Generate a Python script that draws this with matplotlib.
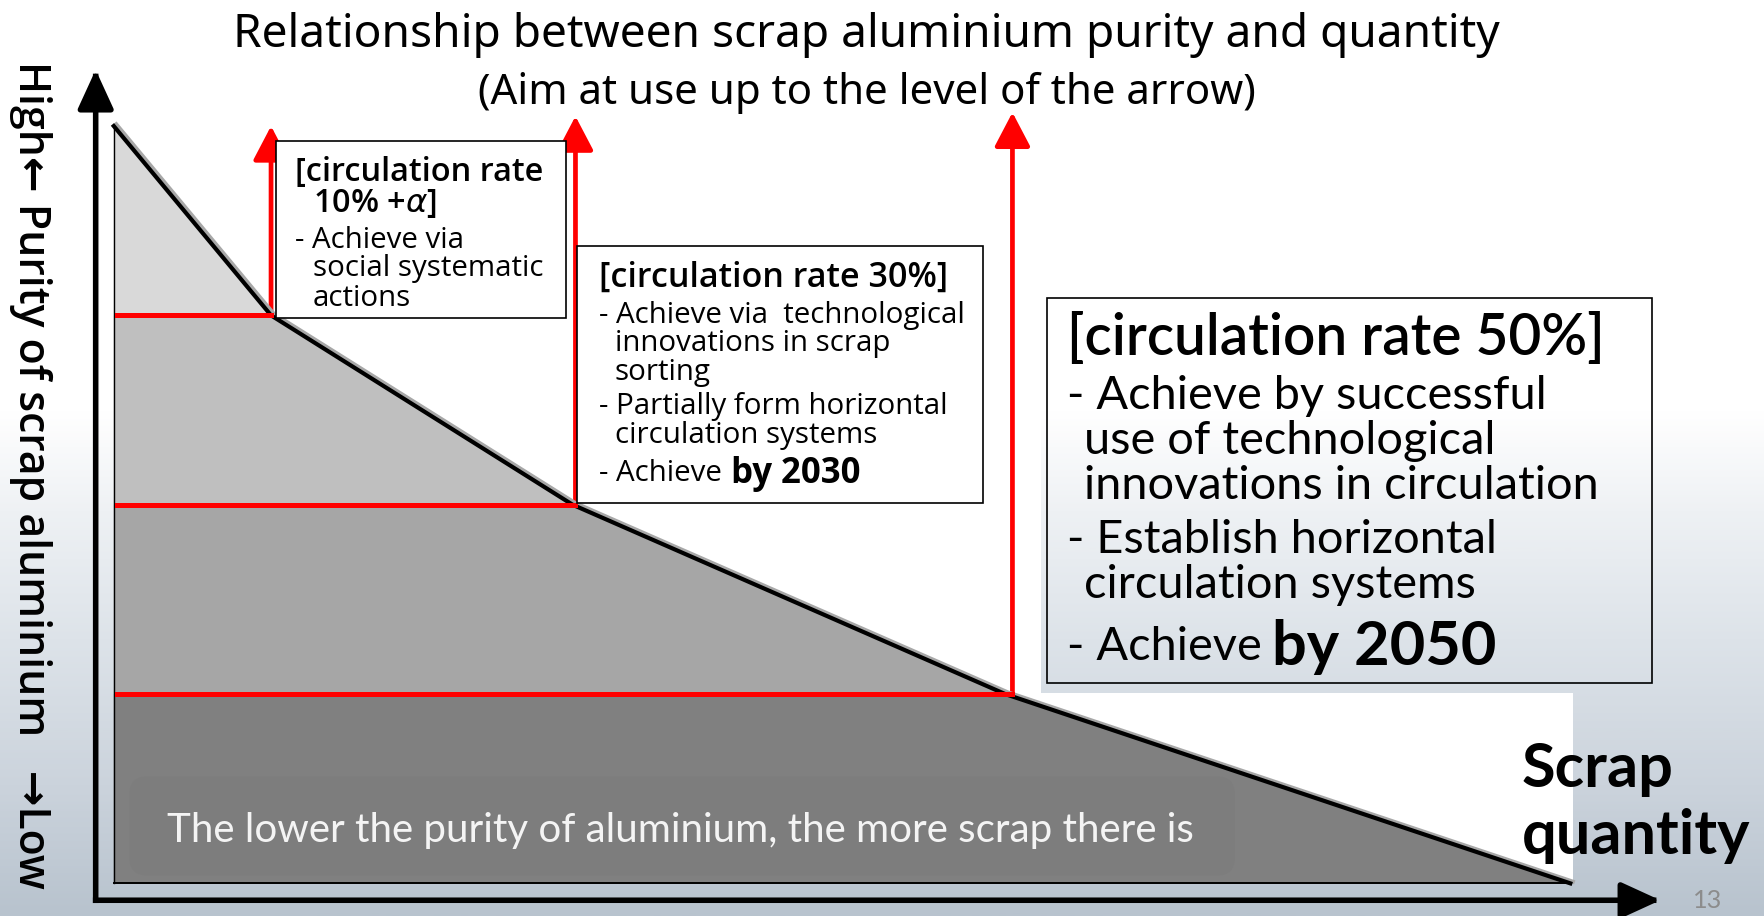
import numpy as np
import matplotlib.pyplot as plt
import matplotlib.patheffects as pe
from matplotlib.colors import LinearSegmentedColormap
from matplotlib.patches import FancyArrowPatch, Rectangle, FancyBboxPatch

plt.rcParams['font.family'] = ['Noto Sans', 'DejaVu Sans']

# --- diagram data ---
purity_levels = [100, 75, 50, 25, 0]              # band edges, top -> bottom
quantity_at_level = [0, 10.8, 31.5, 61.2, 100]    # where each band edge meets the slope
band_colors = ['#d9d9d9', '#bfbfbf', '#a6a6a6', '#808080']

target_quantity = [10.8, 31.7, 61.7]   # red arrows: 10%+a, 30%, 50%
target_purity = [75, 50, 25]
arrow_tips = [100, 101.3, 101.8]

title_lines = ['Relationship between scrap aluminium purity and quantity',
               '(Aim at use up to the level of the arrow)']
y_label = 'High\u2190 Purity of scrap aluminium   \u2192Low'
x_label = ['Scrap', 'quantity']
note_text = 'The lower the purity of aluminium, the more scrap there is'
page_no = '13'

box1_lines = ['[circulation rate', '10% +$\\alpha$]', '- Achieve via', 'social systematic', 'actions']
box2_lines = ['[circulation rate 30%]', '- Achieve via  technological', 'innovations in scrap', 'sorting',
              '- Partially form horizontal', 'circulation systems', '- Achieve', 'by 2030']
box3_lines = ['[circulation rate 50%]', '- Achieve by successful', 'use of technological',
              'innovations in circulation', '- Establish horizontal', 'circulation systems',
              '- Achieve', 'by 2050']

# --- layout (positions read on a 1568 px wide copy of the slide) ---
S = 1765 / 1568
DY = 3  # va='center' sits a little high

def fx(x):
    return x / 1568

def fy(y):
    return 1 - y / 814

box1_x = [262, 278, 262, 278, 278]
box1_y = [150, 178, 211, 236, 262]
box2_x = [532, 532, 546, 546, 532, 546, 532, 649]
box2_y = [244, 277, 302, 328, 358, 384, 418, 418]
box3_x = [948, 948, 963, 963, 948, 963, 948, 1130]
box3_y = [298, 349, 389, 429, 477, 517, 572, 572]
box_frames = [(245, 125, 503, 283, 'white'), (513, 219, 873, 447, 'white'), (930, 265, 1468, 607, 'none')]

fig = plt.figure(figsize=(17.65, 9.16), dpi=100)
renderer = fig.canvas.get_renderer()


def size_for(text, width_ref, vertical=False, **kw):
    # font size that makes the text as long as it is on the slide
    t = fig.text(0, 0, text, fontsize=20, rotation=270 if vertical else 0, **kw)
    bb = t.get_window_extent(renderer)
    size = 20 * width_ref * S / (bb.height if vertical else bb.width)
    t.remove()
    return size


# --- slide background ---
bg = fig.add_axes([0, 0, 1, 1], zorder=0)
stops = [(0, 'white'), (0.45, 'white'), (0.56, '#eef1f4'), (0.7, '#dde3e9'),
         (0.86, '#cbd3dc'), (1, '#b8c3ce')]
sea = LinearSegmentedColormap.from_list('sea', stops)
bg.imshow(np.linspace(0, 1, 400)[:, None], cmap=sea, aspect='auto', extent=[0, 1, 0, 1], origin='upper')
bg.add_patch(Rectangle((fx(101), fy(785)), fx(925) - fx(101), fy(95) - fy(785), fc='white', ec='none'))
bg.add_patch(Rectangle((fx(101), fy(785)), fx(1397) - fx(101), fy(616) - fy(785), fc='white', ec='none'))
bg.set_xlim(0, 1)
bg.set_ylim(0, 1)
bg.axis('off')

# --- purity / quantity diagram ---
ax = fig.add_axes([fx(85), fy(800), fx(1475) - fx(85), fy(62) - fy(800)], zorder=1)
ax.set_xlim(-1.24, 106.18)
ax.set_ylim(-2.23, 107.43)
ax.axis('off')
ax.patch.set_alpha(0)

for k in range(len(band_colors)):
    xs = [0, quantity_at_level[k + 1], quantity_at_level[k], 0]
    ys = [purity_levels[k + 1], purity_levels[k + 1], purity_levels[k], purity_levels[k]]
    ax.fill(xs, ys, color=band_colors[k], lw=0)

ax.plot(quantity_at_level, purity_levels, color='black', lw=3,
        path_effects=[pe.SimpleLineShadow(offset=(1.8, 1.2), shadow_color='#a8a8a8', alpha=1), pe.Normal()])
ax.plot([0, 0], [0, 100], color='black', lw=1.0)
ax.plot([0, 100], [0, 0], color='black', lw=1.4)

for q, p, tip in zip(target_quantity, target_purity, arrow_tips):
    ax.plot([0.25, q], [p, p], color='red', lw=3.6, solid_capstyle='projecting')
    ax.add_patch(FancyArrowPatch((q, p), (q, tip), arrowstyle='-|>,head_length=21,head_width=11',
                                 mutation_scale=1, color='red', lw=3.4, shrinkA=0, shrinkB=0,
                                 clip_on=False))

# axis arrows
for end in [(0, 1), (1, 0)]:
    ax.add_patch(FancyArrowPatch((0, 0), end, transform=ax.transAxes,
                                 arrowstyle='-|>,head_length=24,head_width=11', mutation_scale=1,
                                 color='black', lw=4, shrinkA=0, shrinkB=0, capstyle='projecting',
                                 clip_on=False))

# --- boxes ---
for x0, y0, x1, y1, fc in box_frames:
    fig.add_artist(Rectangle((fx(x0), fy(y1)), fx(x1) - fx(x0), fy(y0) - fy(y1),
                             transform=fig.transFigure, fc=fc, ec='black', lw=1.2, zorder=2))

fig.add_artist(FancyBboxPatch((fx(115), fy(778)), fx(1097) - fx(115), fy(690) - fy(778),
                              boxstyle='round,pad=0,rounding_size=0.01', mutation_aspect=1765 / 916,
                              transform=fig.transFigure, fc='#7d7d7d', ec='none', zorder=2))

# --- texts ---
t1 = size_for(title_lines[0], 1126)
t2 = size_for(title_lines[1], 691)
fig.text(fx(770), fy(27 + DY + 1), title_lines[0], ha='center', va='center', fontsize=t1, zorder=3)
fig.text(fx(770), fy(80 + DY), title_lines[1], ha='center', va='center', fontsize=t2, zorder=3)

opens = ['Open Sans', 'DejaVu Sans']
ysz = size_for(y_label, 735, vertical=True, family=opens, fontweight='semibold')
fig.text(fx(27), fy(422), y_label, rotation=270, ha='center', va='center', fontsize=ysz,
         family=opens, fontweight='semibold', zorder=3)

b1_head = size_for(box1_lines[0], 220, fontweight='semibold', family=opens)
b1_body = size_for(box1_lines[3], 204, family=opens)
for i, (t, x, y) in enumerate(zip(box1_lines, box1_x, box1_y)):
    bold = i < 2
    fig.text(fx(x), fy(y + DY), t, ha='left', va='center', fontsize=b1_head if bold else b1_body,
             fontweight='semibold' if bold else 'normal', family=opens, zorder=3)

b2_head = size_for(box2_lines[0], 310, fontweight='semibold', family=opens)
b2_body = size_for(box2_lines[1], 325, family=opens)
b2_year = size_for(box2_lines[-1], 115, fontweight='bold', family=opens)
for i, (t, x, y) in enumerate(zip(box2_lines, box2_x, box2_y)):
    last = i == len(box2_lines) - 1
    size = b2_head if i == 0 else (b2_year if last else b2_body)
    weight = 'semibold' if i == 0 else ('bold' if last else 'normal')
    fig.text(fx(x), fy(y + DY), t, ha='left', va='center', fontsize=size,
             fontweight=weight, family=opens, zorder=3)

lato = ['Lato', 'DejaVu Sans']
b3_head = size_for(box3_lines[0], 477, fontweight='semibold', family=lato)
b3_body = size_for(box3_lines[3], 459, family=lato)
b3_year = size_for(box3_lines[-1], 200, fontweight='bold', family=lato)
for i, (t, x, y) in enumerate(zip(box3_lines, box3_x, box3_y)):
    last = i == len(box3_lines) - 1
    size = b3_head if i == 0 else (b3_year if last else b3_body)
    weight = 'semibold' if i == 0 else ('bold' if last else 'normal')
    fig.text(fx(x), fy(y + DY), t, ha='left', va='center', fontsize=size, family=lato,
             fontweight=weight, zorder=3)

xs_size = size_for(x_label[1], 203, fontweight='bold', family=lato)
fig.text(fx(1352), fy(680 + DY), x_label[0], ha='left', va='center', fontsize=xs_size,
         fontweight='bold', family=lato, zorder=3)
fig.text(fx(1352), fy(740 + DY), x_label[1], ha='left', va='center', fontsize=xs_size,
         fontweight='bold', family=lato, zorder=3)

note_size = size_for(note_text, 914, family=lato)
fig.text(fx(148), fy(735 + DY), note_text, ha='left', va='center', fontsize=note_size,
         color='#f4f4f4', family=lato, zorder=3)

fig.text(fx(1504), fy(800), page_no, ha='left', va='center', fontsize=size_for(page_no, 26, family=lato),
         color='#8c8c8c', family=lato, zorder=3)

fig.savefig('out.png', dpi=100)
